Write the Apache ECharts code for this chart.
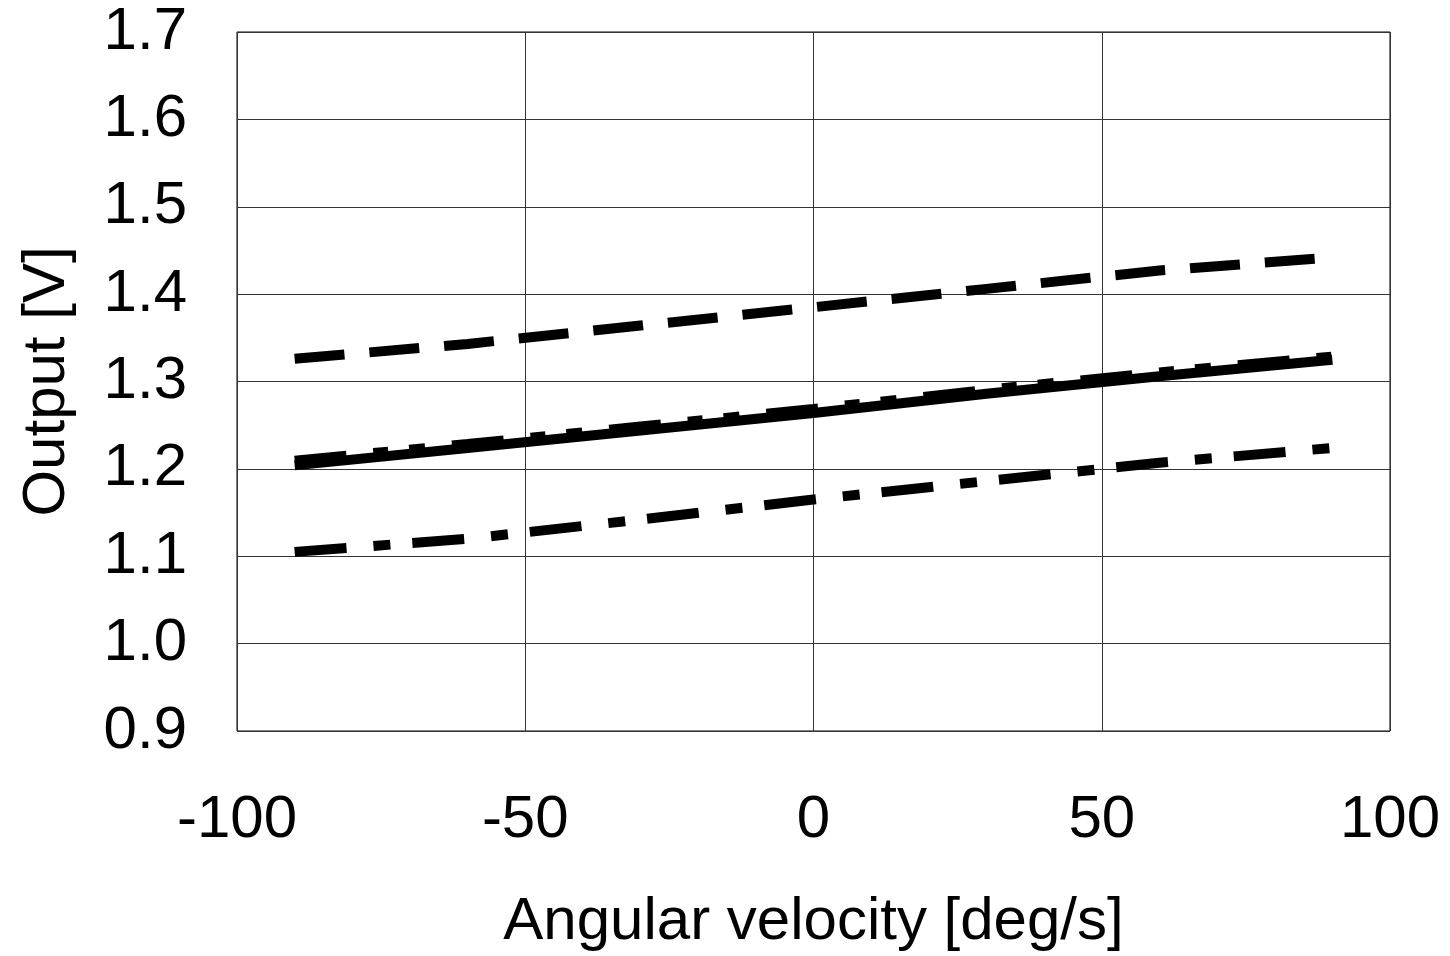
<!DOCTYPE html>
<html>
<head>
<meta charset="utf-8">
<script src="https://cdn.jsdelivr.net/npm/echarts@6/dist/echarts.min.js"></script>
<style>html,body{margin:0;padding:0;background:#fff;}#c{width:1450px;height:956px;}</style>
</head>
<body>
<div id="c"></div>
<script>
const xValues = [-90, -60, -30, 0, 30, 60, 90];
const seriesDashed = [1.326, 1.343, 1.364, 1.385, 1.406, 1.427, 1.442];
const seriesDashDotDot = [1.210, 1.229, 1.249, 1.269, 1.291, 1.311, 1.329];
const seriesSolid = [1.204, 1.224, 1.244, 1.264, 1.286, 1.306, 1.325];
const seriesDashDot = [1.105, 1.120, 1.142, 1.165, 1.186, 1.207, 1.224];
const xTicks = [-100, -50, 0, 50, 100];
const yTicks = [0.9, 1.0, 1.1, 1.2, 1.3, 1.4, 1.5, 1.6, 1.7];

function pairs(vals) { return xValues.map((x, i) => [x, vals[i]]); }

const chart = echarts.init(document.getElementById('c'));
const font = 'Liberation Sans, Arial, sans-serif';
function line(name, vals, dash, width) {
  return {
    name, type: 'line', data: pairs(vals), showSymbol: false, smooth: false,
    lineStyle: { color: '#000', width: width, type: dash, cap: 'butt' }
  };
}
chart.setOption({
  animation: false,
  backgroundColor: '#fff',
  grid: { left: 237, right: 60, top: 32, bottom: 225, show: true, borderColor: '#000', borderWidth: 1,
    containLabel: false, outerBoundsMode: 'none' },
  xAxis: {
    type: 'value', min: xTicks[0], max: xTicks[xTicks.length - 1], interval: 50,
    name: 'Angular velocity [deg/s]', nameLocation: 'middle', nameGap: 161,
    nameTextStyle: { fontFamily: font, fontSize: 60, color: '#000' },
    axisLine: { show: false }, axisTick: { show: false },
    axisLabel: { fontFamily: font, fontSize: 60, color: '#000', margin: 59 },
    splitLine: { show: true, lineStyle: { color: '#333', width: 1 } }
  },
  yAxis: {
    type: 'value', min: yTicks[0], max: yTicks[yTicks.length - 1], interval: 0.1,
    name: 'Output [V]', nameLocation: 'middle', nameGap: 160, nameRotate: 90,
    nameTextStyle: { fontFamily: font, fontSize: 60, color: '#000' },
    axisLine: { show: false }, axisTick: { show: false },
    axisLabel: { fontFamily: font, fontSize: 60, color: '#000', margin: 50,
      formatter: v => v.toFixed(1) },
    splitLine: { show: true, lineStyle: { color: '#333', width: 1 } }
  },
  series: [
    line('dashed', seriesDashed, [50, 25], 10),
    line('solid', seriesSolid, 'solid', 10),
    line('dashdotdot', seriesDashDotDot, [52, 27, 15, 21, 16, 27], 9),
    line('dashdot', seriesDashDot, [52, 27, 17, 22], 10)
  ]
});
</script>
</body>
</html>
